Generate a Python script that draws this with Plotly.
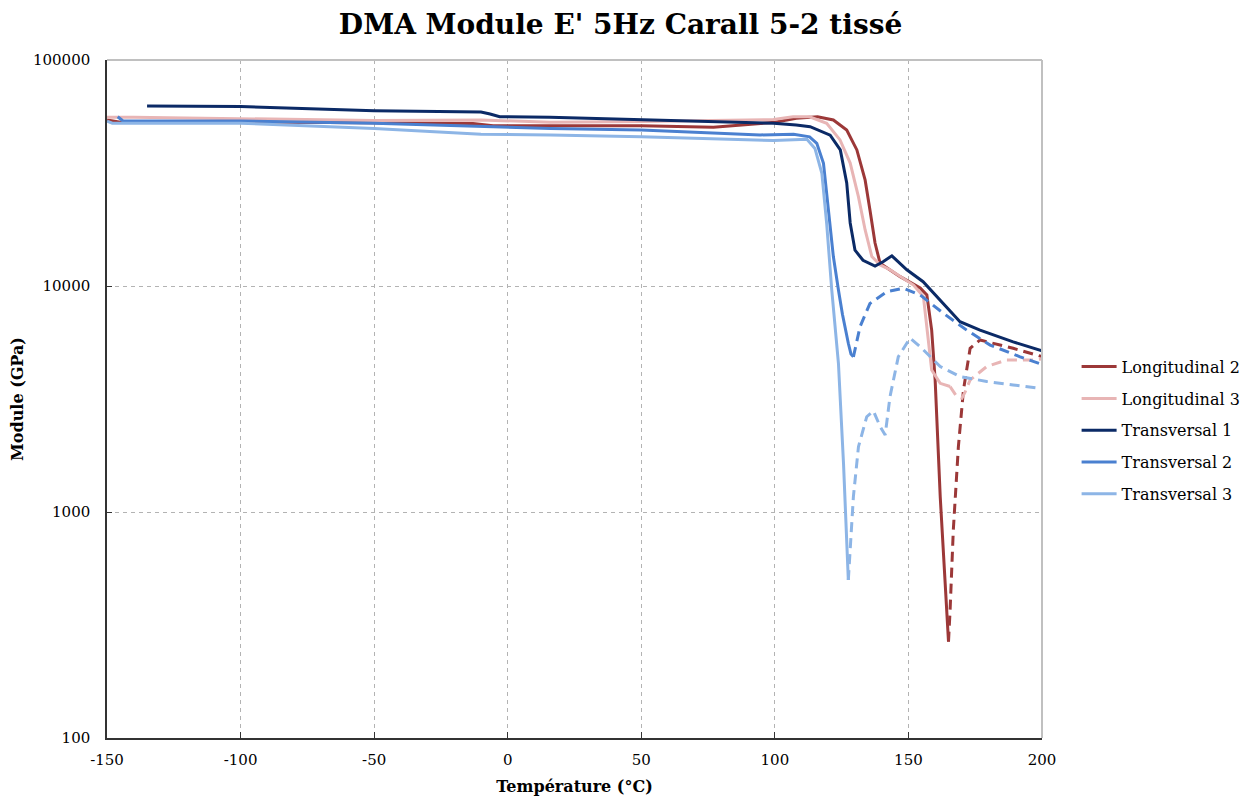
import plotly.graph_objects as go

# ---------------- data ----------------
long2_T = [-150, -145, -120, -50, -13, -5.5, 16, 50, 77, 100, 108, 116, 121.9, 126.9, 130.7,
           133.8, 135.6, 137.5, 139.4, 146.9, 154.4, 156.9, 158.7, 160, 161.9, 164.4, 165]
long2_E = [54300, 53000, 53400, 52800, 52300, 51200, 51200, 51200, 50400, 53000, 55200, 56100,
           54300, 49000, 40000, 29400, 21700, 15500, 12600, 11000, 9800, 9120, 6380, 3840, 1170, 357, 267]
long2_dash_T = [165, 165.6, 166.8, 168.7, 170.6, 173.1, 176.8, 189.2, 200]
long2_dash_E = [267, 368, 832, 1945, 3470, 5300, 5770, 5300, 4870]

long3_T = [-150, -140, -50, -10, 16, 50, 99.5, 106.8, 113, 119.4, 124.4, 128.2, 131.3, 133.8,
           136.3, 139.4, 143.1, 151.9, 155.6, 156.9, 158.7, 161.9, 165.6]
long3_E = [55800, 55800, 54000, 54300, 53000, 53400, 54500, 56100, 56100, 52500, 44300, 35000,
           24800, 17700, 13500, 12400, 11800, 10100, 8980, 6380, 4250, 3710, 3590]
long3_dash_T = [165.6, 168.1, 170, 171.2, 173.1, 179.3, 186.8, 196.7, 200]
long3_dash_E = [3590, 3240, 3190, 3390, 3840, 4400, 4710, 4710, 4750]

trans1_T = [-135, -100, -50, -10, -6.6, -3, 15.8, 50, 99.5, 108, 113.2, 120.7, 124.5, 126.9, 128.2,
            130, 133, 137.5, 140.5, 143.8, 149.4, 155.5, 164.4, 169.3, 176.8, 189.2, 200]
trans1_E = [62600, 62200, 59700, 58800, 57700, 56100, 55800, 54300, 52500, 51600, 50700, 46500,
            40000, 28600, 19000, 14400, 13000, 12250, 12800, 13600, 11800, 10450, 8090, 6950,
            6380, 5660, 5170]

trans2_T = [-146, -144, -100, -50, 16, 50, 94.5, 99.5, 107, 113, 115.7, 118.2, 120, 121.9, 123.8,
            125.3, 127.5, 128.5, 129.4]
trans2_E = [56100, 53700, 53700, 52500, 49800, 49000, 46600, 46600, 46900, 45700, 42800, 34900,
            22400, 13500, 9600, 7500, 5580, 5000, 4860]
trans2_dash_T = [129.4, 130.2, 131.9, 135.6, 141.9, 148.1, 154.4, 163.1, 171.8, 180.6, 191.8, 200]
trans2_dash_E = [4860, 5400, 6610, 8370, 9440, 9780, 9120, 7570, 6380, 5480, 4860, 4500]

trans3_T = [-150, -148, -100, -50, -10, 16, 50, 99.5, 112, 115, 117.6, 119.4, 121.3, 123.8,
            125.7, 127.5]
trans3_E = [53700, 52500, 52500, 49800, 46900, 46600, 45800, 44000, 44600, 40600, 31500, 18900,
            9600, 4550, 1640, 500]
trans3_dash_T = [127.5, 128.2, 129.4, 131.3, 134.4, 136.9, 139.4, 141.3, 143.1, 146.2, 150.6,
                 154.4, 161.9, 169.4, 179.3, 189.2, 198]
trans3_dash_E = [500, 703, 1170, 1945, 2640, 2800, 2390, 2190, 3240, 4860, 5880, 5390, 4400,
                 3970, 3780, 3650, 3540]

series_names = ["Longitudinal 2", "Longitudinal 3", "Transversal 1", "Transversal 2", "Transversal 3"]
series_colors = ["#9c3838", "#e8b5b5", "#0b2a66", "#4a80d0", "#8db5e6"]

y_tickvals = [100, 1000, 10000, 100000]
y_ticktext = ["100", "1000", "10000", "100000"]
x_tickvals = [-150, -100, -50, 0, 50, 100, 150, 200]
x_ticktext = ["-150", "-100", "-50", "0", "50", "100", "150", "200"]

title_text = "DMA Module E' 5Hz Carall 5-2 tissé"
x_title = "Température (°C)"
y_title = "Module (GPa)"

# ---------------- figure ----------------
FONT = "DejaVu Serif"
fig = go.Figure()

solid = [(long2_T, long2_E), (long3_T, long3_E), (trans1_T, trans1_E), (trans2_T, trans2_E),
         (trans3_T, trans3_E)]
dashed = {0: (long2_dash_T, long2_dash_E), 1: (long3_dash_T, long3_dash_E),
          3: (trans2_dash_T, trans2_dash_E), 4: (trans3_dash_T, trans3_dash_E)}

for i, (name, col) in enumerate(zip(series_names, series_colors)):
    tx, ty = solid[i]
    fig.add_trace(go.Scatter(x=tx, y=ty, mode="lines", name=name, legendgroup=name,
                             line=dict(color=col, width=3)))
    if i in dashed:
        dx, dy = dashed[i]
        fig.add_trace(go.Scatter(x=dx, y=dy, mode="lines", name=name, legendgroup=name,
                                 showlegend=False, line=dict(color=col, width=3, dash="10px,6px")))

# the page body has an 8px margin, so the figure is sized/offset to compensate
fig.update_layout(
    width=1240, height=788,
    margin=dict(l=99, r=206, t=52, b=58, autoexpand=False),
    paper_bgcolor="white", plot_bgcolor="white",
    font=dict(family=FONT, color="black", size=14),
    title=dict(text=title_text, x=0.494, xanchor="center", y=0.979, yanchor="middle",
               font=dict(family=FONT, size=28, color="black", weight="bold")),
    showlegend=True,
    legend=dict(x=1.037, xanchor="left", y=0.454, yanchor="middle",
                font=dict(family=FONT, size=16, color="black"),
                traceorder="grouped", tracegroupgap=8, itemwidth=35,
                bgcolor="rgba(0,0,0,0)"),
)

fig.update_xaxes(
    range=[-150, 200], tickvals=x_tickvals, ticktext=x_ticktext, automargin=False,
    showgrid=True, gridcolor="#b3b3b3", gridwidth=1, griddash="4px,4px",
    zeroline=False, showline=True, linecolor="#333333", linewidth=1.5,
    ticks="inside", ticklen=6, tickcolor="#333333",
    tickfont=dict(family=FONT, size=15, color="black"),
    ticklabelstandoff=7,
    title=dict(text=x_title, font=dict(family=FONT, size=16, color="black", weight="bold"),
               standoff=14),
)
fig.update_yaxes(
    type="log", range=[2, 5], tickvals=y_tickvals, ticktext=y_ticktext, automargin=False,
    showgrid=True, gridcolor="#b3b3b3", gridwidth=1, griddash="4px,4px",
    zeroline=False, showline=True, linecolor="#333333", linewidth=1.5,
    ticks="inside", ticklen=5, tickcolor="#333333",
    tickfont=dict(family=FONT, size=15, color="black"),
    ticklabelstandoff=12,
    title=dict(text=y_title, font=dict(family=FONT, size=16, color="black", weight="bold"),
               standoff=14),
)

# light grey top/right border of plot area
fig.add_shape(type="line", xref="paper", yref="paper", x0=0, x1=1, y0=1, y1=1,
              line=dict(color="#c0c0c0", width=2), layer="above")
fig.add_shape(type="line", xref="paper", yref="paper", x0=1, x1=1, y0=0, y1=1,
              line=dict(color="#c0c0c0", width=2), layer="above")

fig.write_html("out.html")
